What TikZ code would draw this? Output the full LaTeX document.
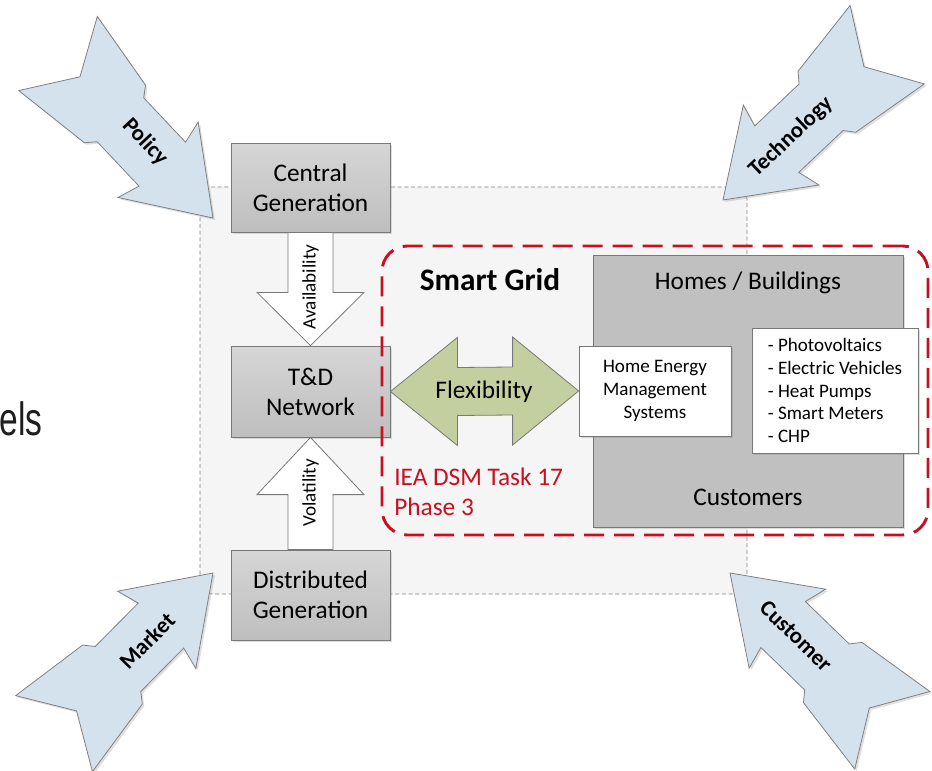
\documentclass[tikz,border=0pt]{standalone}
\usepackage{fontspec}
\setmainfont{Carlito}
\newfontfamily\arialf{Liberation Sans}
\usetikzlibrary{calc,shadows}
\definecolor{boxtop}{RGB}{214,214,214}
\definecolor{boxbot}{RGB}{190,190,190}
\definecolor{boxedge}{RGB}{120,120,120}
\definecolor{homegray}{RGB}{192,192,192}
\definecolor{bgfill}{RGB}{245,245,245}
\definecolor{sgred}{RGB}{200,16,32}
\definecolor{flexgreen}{RGB}{196,207,160}
\definecolor{arrowblue}{RGB}{212,226,238}
\definecolor{textdark}{RGB}{30,30,30}
\tikzset{
  softshadow/.style={drop shadow={opacity=0.25, shadow xshift=1.5pt, shadow yshift=-1.5pt}},
  graybox/.style={draw=boxedge, top color=boxtop, bottom color=boxbot, line width=0.6pt,
    align=center, inner sep=0pt, font=\fontsize{19}{22.5}\selectfont, softshadow},
  whitebox/.style={draw=boxedge, fill=white, line width=0.6pt, inner sep=0pt,
    font=\fontsize{14.3}{17}\selectfont, softshadow},
  bgbox/.style={draw=gray, fill=bgfill, dash pattern=on 3pt off 2pt, line width=0.5pt,
    rounded corners=9pt, inner sep=0pt},
  redbox/.style={draw=sgred, dash pattern=on 15pt off 7.5pt, line width=2.2pt,
    rounded corners=19pt, inner sep=0pt},
  whitearrow/.style={draw=boxedge, fill=white, line width=0.6pt},
  flexarrow/.style={draw=boxedge, fill=flexgreen, line width=0.6pt},
  bigarrow/.style={draw=gray, fill=arrowblue, line width=0.6pt, softshadow},
  arrowlabel/.style={font=\bfseries\fontsize{17}{20}\selectfont, text=black},
  smalltext/.style={font=\fontsize{14.3}{17}\selectfont},
  bluearrow/.pic={
    \draw[bigarrow] (0,0) -- (-80,-55) -- (-74,-32) -- (-135,-32) -- (-143,-42)
      -- (-226,-54) -- (-194,0) -- (-226,54) -- (-143,42) -- (-135,32) -- (-74,32)
      -- (-80,55) -- cycle;
  }
}
\begin{document}
\begin{tikzpicture}[x=0.75pt, y=-0.75pt]
\useasboundingbox (0,0) rectangle (932,771);

% left cut-off text
\node[anchor=base east, inner sep=0pt, text=textdark, font=\arialf\fontsize{35}{40}\selectfont] (els) at (43,435) {\scalebox{0.72}[1]{els}};

% background dashed area
\node[bgbox, minimum width=410.25pt, minimum height=305.25pt] (bg) at (473.5,390.5) {};

% left column boxes
\node[graybox, minimum width=119.25pt, minimum height=66.75pt] (cg) at (310.5,187.5) {Central\\Generation};
\node[graybox, minimum width=119.25pt, minimum height=68.25pt] (td) at (310.5,391.5) {T\&D\\Network};
\node[graybox, minimum width=119.25pt, minimum height=67.5pt] (dg) at (310.5,595) {Distributed\\Generation};

% availability arrow
\draw[whitearrow] ($(cg.south)+(-22.5,0)$) -- ($(cg.south)+(-22.5,60)$) -- ($(cg.south)+(-53.5,60)$)
  -- (td.north) -- ($(cg.south)+(53.5,60)$) -- ($(cg.south)+(22.5,60)$) -- ($(cg.south)+(22.5,0)$) -- cycle;
\node[smalltext, rotate=90] (avail) at (310.5,287) {Availability};

% volatility arrow
\draw[whitearrow] ($(dg.north)+(-22.5,0)$) -- ($(dg.north)+(-22.5,-55)$) -- ($(dg.north)+(-53.5,-55)$)
  -- (td.south) -- ($(dg.north)+(53.5,-55)$) -- ($(dg.north)+(22.5,-55)$) -- ($(dg.north)+(22.5,0)$) -- cycle;
\node[smalltext, rotate=90] (volat) at (310.5,493) {Volatility};

% smart grid red area
\node[redbox, minimum width=409.5pt, minimum height=216.75pt] (sg) at (655,390.5) {};
\node[font=\bfseries\fontsize{23.5}{28}\selectfont] (sgtitle) at (490,280) {Smart Grid};
\node[anchor=west, align=left, text=sgred, font=\fontsize{19}{22.5}\selectfont, inner sep=0pt] (iea) at (394,492) {IEA DSM Task 17\\Phase 3};

% homes / buildings
\node[draw=boxedge, fill=homegray, line width=0.6pt, inner sep=0pt, softshadow,
  minimum width=232.5pt, minimum height=204pt] (homes) at (748,391) {};
\node[font=\fontsize{19}{22.5}\selectfont] (homestitle) at (748,283) {Homes / Buildings};
\node[font=\fontsize{19}{22.5}\selectfont] (customers) at (748,497) {Customers};
\node[whitebox, align=center, minimum width=114pt, minimum height=67.5pt] (hems) at (655,391) {Home Energy\\Management\\Systems};
\node[whitebox, align=left, minimum width=124.5pt, minimum height=93.75pt] (tech) at (835,390.5)
  {- Photovoltaics\\- Electric Vehicles\\- Heat Pumps\\- Smart Meters\\- CHP};

% flexibility double arrow
\draw[flexarrow] (td.east) -- ($(td.east)+(67,-54)$) -- ($(td.east)+(67,-24)$)
  -- ($(hems.west)+(-66,-24)$) -- ($(hems.west)+(-66,-54)$) -- (hems.west)
  -- ($(hems.west)+(-66,54)$) -- ($(hems.west)+(-66,24)$) -- ($(td.east)+(67,24)$)
  -- ($(td.east)+(67,54)$) -- cycle;
\node[font=\fontsize{19}{22.5}\selectfont] (flex) at (484,392) {Flexibility};

% outer influence arrows
\pic[rotate=-46.7] at (213,218) {bluearrow};
\pic[rotate=-136.6] at (723,200) {bluearrow};
\pic[rotate=45.3] at (213,573) {bluearrow};
\pic[rotate=135.9] at (730,573) {bluearrow};
\node[arrowlabel, rotate=-46.7] (policy) at (145,142) {Policy};
\node[arrowlabel, rotate=43.4] (technology) at (791,137) {Technology};
\node[arrowlabel, rotate=45.3] (market) at (147,641) {Market};
\node[arrowlabel, rotate=-44.1] (customer) at (796,636) {Customer};
\end{tikzpicture}
\end{document}
